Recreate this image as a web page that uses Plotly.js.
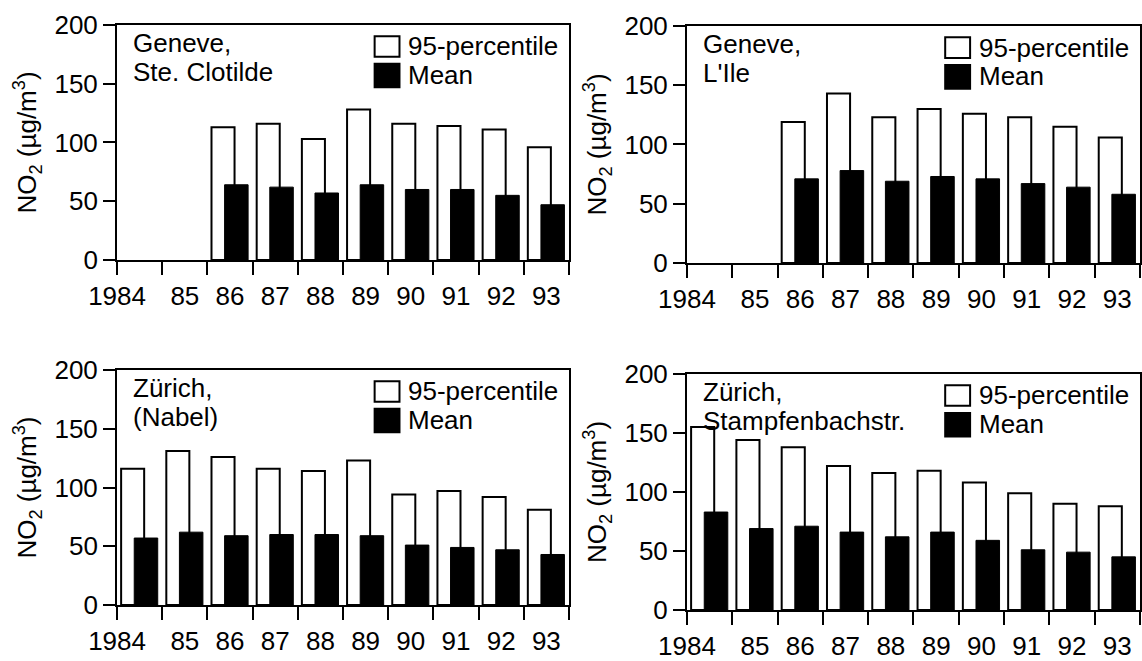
<!DOCTYPE html>
<html><head><meta charset="utf-8">
<script src="https://cdn.plot.ly/plotly-3.0.1.min.js"></script>
<style>html,body{margin:0;padding:0;background:#fff}#chart{width:1142px;height:661px}</style>
</head><body><div id="chart"></div>
<script>
// ---- data (µg/m3) ----
const years = ['1984','85','86','87','88','89','90','91','92','93'];
const seriesNames = ['95-percentile','Mean'];
const stationCities = ['Geneve,','Geneve,','Zürich,','Zürich,'];
const stationSites = ['Ste. Clotilde','L\'Ile','(Nabel)','Stampfenbachstr.'];
const geneveClotildeP95  = [null,null,113,116,103,128,116,114,111,96];
const geneveClotildeMean = [null,null,64,62,57,64,60,60,55,47];
const geneveIleP95  = [null,null,119,143,123,130,126,123,115,106];
const geneveIleMean = [null,null,71,78,69,73,71,67,64,58];
const zurichNabelP95  = [116,131,126,116,114,123,94,97,92,81];
const zurichNabelMean = [57,62,59,60,60,59,51,49,47,43];
const zurichStampP95  = [155,144,138,122,116,118,108,99,90,88];
const zurichStampMean = [83,69,71,66,62,66,59,51,49,45];

// ---- layout ----
const FONT = 'Arial, "Liberation Sans", sans-serif';
const FS = 26;
const domains = [
  {xd:[0.1025,0.4982], yd:[0.6067,0.9622]},
  {xd:[0.6016,0.9982], yd:[0.6021,0.9607]},
  {xd:[0.1025,0.4982], yd:[0.0847,0.4402]},
  {xd:[0.6016,0.9982], yd:[0.0772,0.4342]}
];
const p95s = [geneveClotildeP95, geneveIleP95, zurichNabelP95, zurichStampP95];
const means = [geneveClotildeMean, geneveIleMean, zurichNabelMean, zurichStampMean];

const traces = [];
const layout = {
  width:1142, height:661,
  margin:{l:0,r:0,t:0,b:0},
  paper_bgcolor:'white', plot_bgcolor:'white',
  font:{family:FONT, size:FS, color:'black'},
  showlegend:false, barmode:'overlay',
  annotations:[], shapes:[]
};

domains.forEach((d,k)=>{
  const nA = 2*k+1, nB = 2*k+2;
  const xA = nA===1 ? 'x' : 'x'+nA, xB = 'x'+nB;
  const yR = k===0 ? 'y' : 'y'+(k+1);
  const xAkey = nA===1 ? 'xaxis' : 'xaxis'+nA, xBkey = 'xaxis'+nB;
  const yKey = k===0 ? 'yaxis' : 'yaxis'+(k+1);

  traces.push({type:'bar', name:seriesNames[0], x:years.map((_,i)=>i+0.345), y:p95s[k], width:0.51,
    marker:{color:'white', line:{color:'black', width:2}}, xaxis:xA, yaxis:yR, hoverinfo:'y'});
  traces.push({type:'bar', name:seriesNames[1], x:years.map((_,i)=>i+0.64), y:means[k], width:0.52,
    marker:{color:'black', line:{color:'black', width:1}}, xaxis:xB, yaxis:yR, hoverinfo:'y'});

  layout[xAkey] = {domain:d.xd, anchor:yR, range:[0,10], tickmode:'linear', tick0:0, dtick:1,
    ticks:'outside', ticklen:13, tickwidth:2, tickcolor:'black', showticklabels:false,
    showline:true, linewidth:2, linecolor:'black', mirror:true, showgrid:false, zeroline:false, fixedrange:true};
  layout[xBkey] = {domain:d.xd, overlaying:xA, anchor:yR, range:[0,10], tickmode:'array',
    tickvals:years.map((_,i)=> i===0 ? 0 : i+0.5), ticktext:years,
    ticks:'outside', ticklen:13, tickcolor:'rgba(0,0,0,0)', showline:false, showgrid:false, zeroline:false,
    tickfont:{size:FS}, fixedrange:true};
  layout[yKey] = {domain:d.yd, anchor:xA, range:[0,200], tickmode:'linear', tick0:0, dtick:50,
    ticks:'outside', ticklen:12, tickwidth:2, tickcolor:'black',
    showline:true, linewidth:2, linecolor:'black', mirror:true, showgrid:false, zeroline:false,
    tickfont:{size:FS}, fixedrange:true,
    title:{text:'NO<sub>2</sub> (µg/m<sup>3</sup>)', font:{size:FS}, standoff:10}};

  const xr = xA+' domain', yr = yR+' domain';
  layout.annotations.push({xref:xr, yref:yr, x:0.03, y:0.925, xanchor:'left', yanchor:'middle', align:'left',
    text:stationCities[k], showarrow:false, font:{size:FS}});
  layout.annotations.push({xref:xr, yref:yr, x:0.03, y:0.80, xanchor:'left', yanchor:'middle', align:'left',
    text:stationSites[k], showarrow:false, font:{size:FS}});
  layout.shapes.push({type:'rect', xref:xr, yref:yr, x0:0.57, x1:0.625, y0:0.865, y1:0.952,
    fillcolor:'white', line:{color:'black', width:2}});
  layout.shapes.push({type:'rect', xref:xr, yref:yr, x0:0.57, x1:0.625, y0:0.735, y1:0.835,
    fillcolor:'black', line:{color:'black', width:2}});
  layout.annotations.push({xref:xr, yref:yr, x:0.64, y:0.909, xanchor:'left', yanchor:'middle',
    text:seriesNames[0], showarrow:false, font:{size:FS}});
  layout.annotations.push({xref:xr, yref:yr, x:0.64, y:0.787, xanchor:'left', yanchor:'middle',
    text:seriesNames[1], showarrow:false, font:{size:FS}});
});

Plotly.newPlot('chart', traces, layout, {displayModeBar:false, staticPlot:true});
</script>
</body></html>
